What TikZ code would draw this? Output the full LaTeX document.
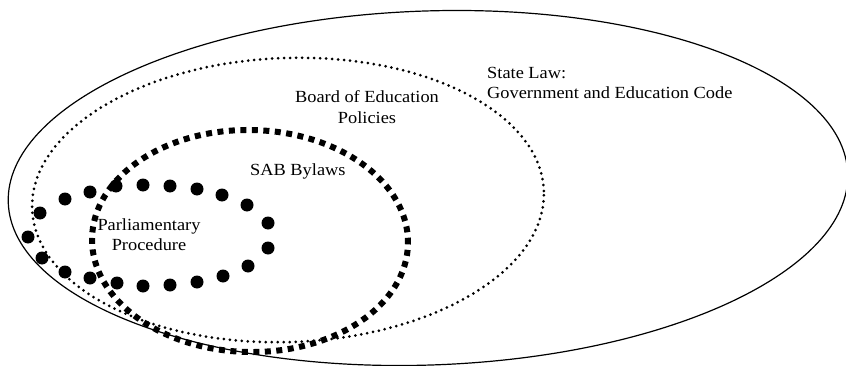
\documentclass[tikz,border=0pt]{standalone}
\usepackage{fontspec}
\setmainfont[FakeStretch=1.08]{Liberation Serif}
\begin{document}
\begin{tikzpicture}[x=1pt,y=1pt,
  lbl/.style={inner sep=0pt,font=\fontsize{17}{20}\selectfont},
  solidring/.style={line width=1.2pt},
  dotring/.style={line width=3pt,line cap=round,dash pattern=on 0pt off 6pt},
  squarering/.style={line width=6pt,dash pattern=on 6pt off 5.5pt},
  bigdot/.style={fill=black}]
\useasboundingbox (0,0) rectangle (846,365);
% State Law (solid)
\draw[solidring] (428,177) ellipse[x radius=420,y radius=177,rotate=2];
% Board of Education Policies (dotted)
\draw[dotring] (288,165) ellipse[x radius=256,y radius=142,rotate=2];
% SAB Bylaws (square dashes)
\draw[squarering] (250,124) ellipse[x radius=158,y radius=111,rotate=-1];
% Parliamentary Procedure (big dots)
\foreach \px/\py in {40/213,65/199,90/192,116/186,143/185,170/186,197/189,222/195,247/205,268/223,268/248,248/266,223/276,197/282,170/285,143/286,117/283,90/278,65/272,42/258,28/237}
  \fill[bigdot] (\px,365-\py) circle[radius=6.5];
% labels
\node[lbl,anchor=base west] (state1) at (487,287) {State Law:};
\node[lbl,anchor=base west] (state2) at (487,267) {Government and Education Code};
\node[lbl,anchor=base] (board1) at (367,262) {Board of Education};
\node[lbl,anchor=base] (board2) at (367,242) {Policies};
\node[lbl,anchor=base west] (sab) at (250,190) {SAB Bylaws};
\node[lbl,anchor=base] (parl1) at (149,135) {Parliamentary};
\node[lbl,anchor=base] (parl2) at (149,115) {Procedure};
\end{tikzpicture}
\end{document}
